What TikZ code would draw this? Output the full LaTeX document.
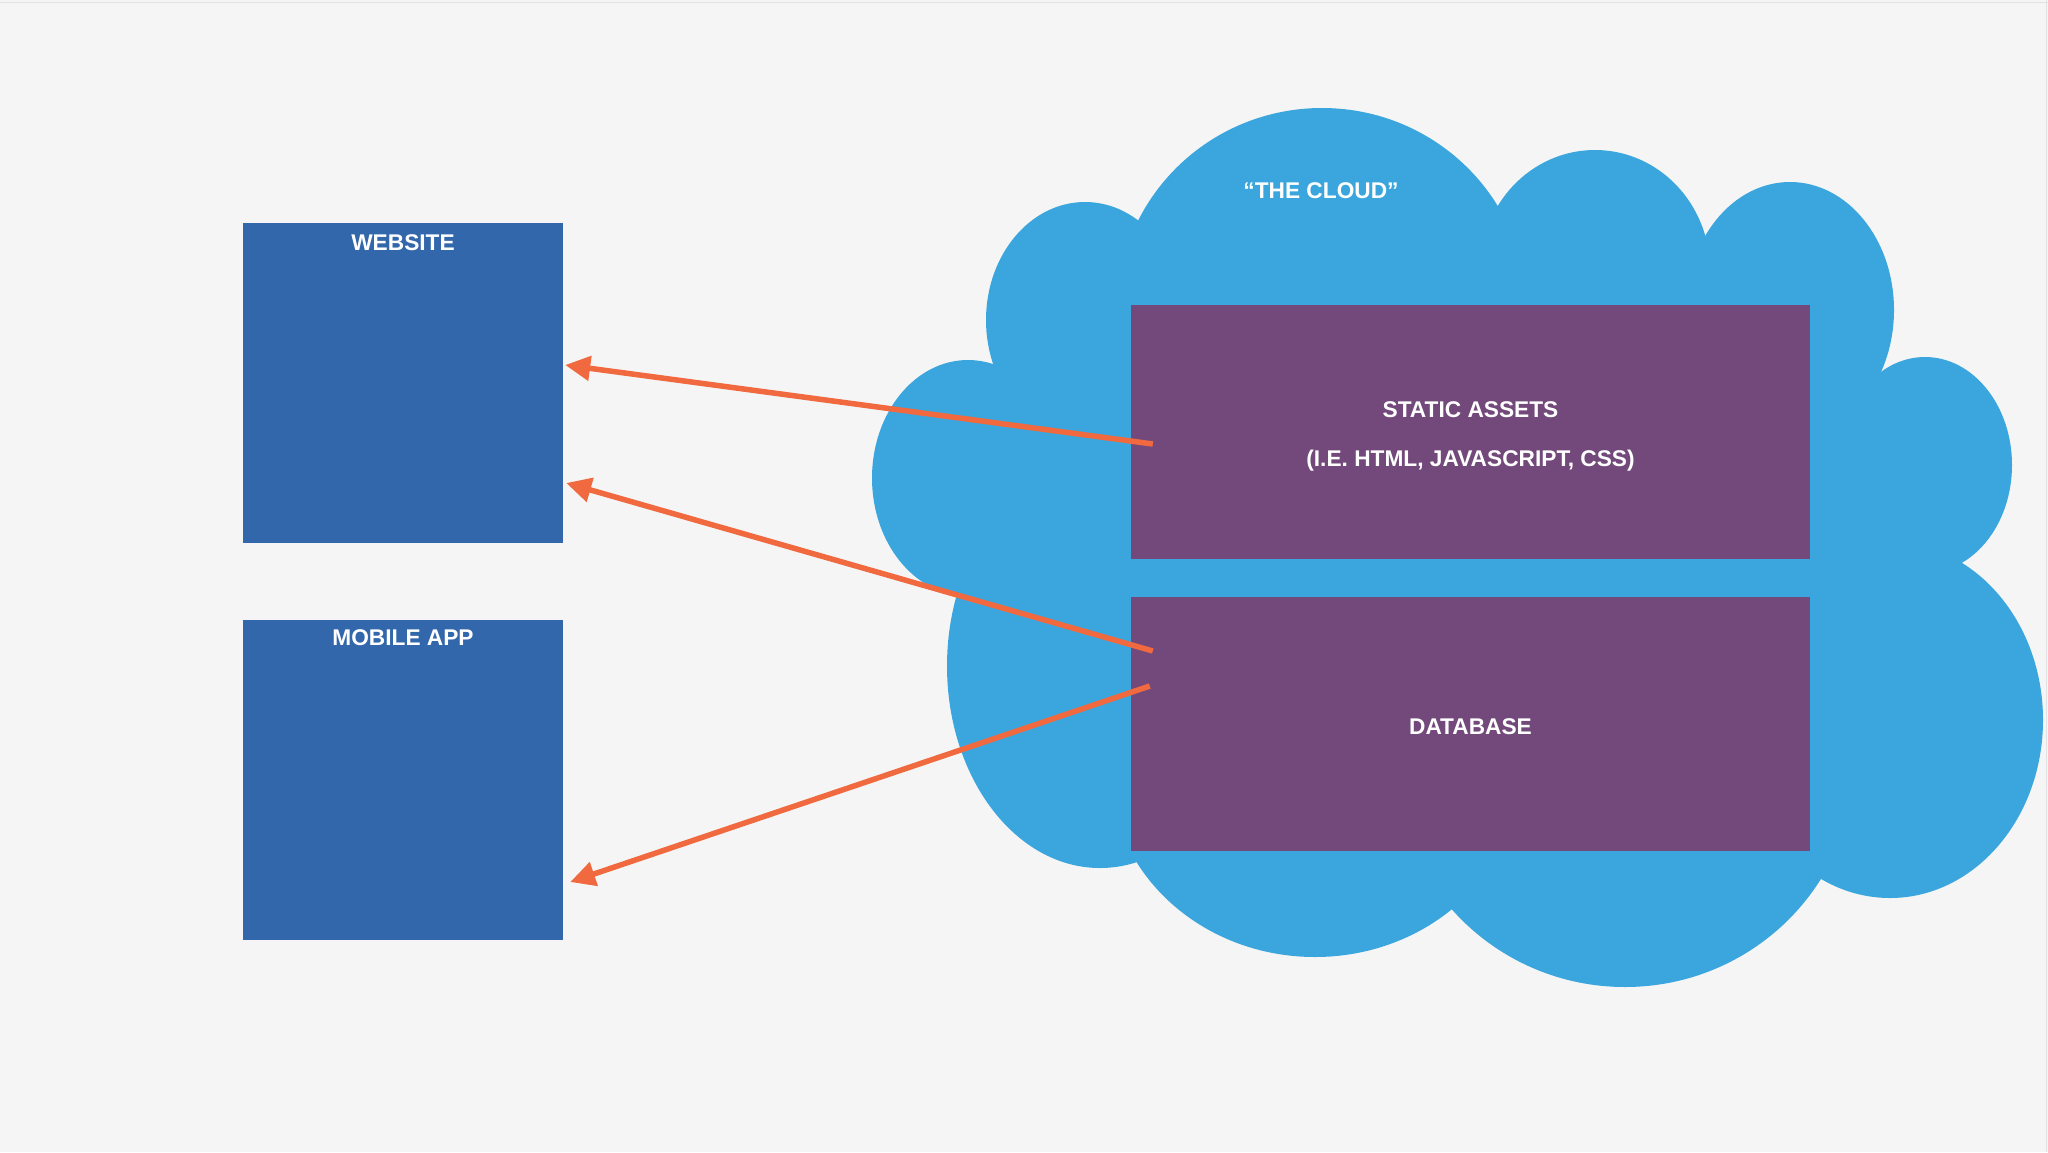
\documentclass[tikz,border=0pt]{standalone}
\usepackage{fontspec}
\setmainfont{Liberation Sans}
\usetikzlibrary{arrows.meta,calc}
\definecolor{bgc}{HTML}{F5F5F6}
\definecolor{edgec}{HTML}{E2E2E4}
\definecolor{boxblue}{HTML}{3267AB}
\definecolor{cloudc}{HTML}{3BA6DD}
\definecolor{purplec}{HTML}{72497A}
\definecolor{arrowc}{HTML}{F0693F}
\begin{document}
\begin{tikzpicture}[x=1pt,y=-1pt,
  appbox/.style={fill=boxblue, draw=none, minimum width=320pt, minimum height=320pt, inner sep=0pt},
  cloudbox/.style={fill=purplec, draw=none, minimum width=679pt, minimum height=254pt, inner sep=0pt},
  lbl/.style={text=white, font=\fontsize{22.7pt}{27pt}\selectfont\bfseries, inner sep=0pt, text height=16.3pt, text depth=0pt},
  arr/.style={draw=arrowc, line width=5.5pt, -{Triangle[length=25pt,width=24pt]}},
  bump/.style={fill=cloudc}
]
\fill[bgc] (0,0) rectangle (2048,1152);
\useasboundingbox (0,0) rectangle (2048,1152);
\draw[edgec, line width=1.5pt] (0,2.5) -- (2048,2.5);
\draw[edgec, line width=1.5pt] (2046.5,0) -- (2046.5,1152);

% cloud
\fill[bump] (1322,310) ellipse [x radius=205pt, y radius=202pt];
\fill[bump] (1085,320) ellipse [x radius=99pt, y radius=118pt];
\fill[bump] (968,478) ellipse [x radius=96pt, y radius=118pt];
\fill[bump] (1100,666) ellipse [x radius=153pt, y radius=202pt];
\fill[bump] (1315,770) ellipse [x radius=205pt, y radius=187pt];
\fill[bump] (1625,760) ellipse [x radius=230pt, y radius=227pt];
\fill[bump] (1890,720) ellipse [x radius=153pt, y radius=178pt];
\fill[bump] (1925,465) ellipse [x radius=87pt, y radius=108pt];
\fill[bump] (1790,310) ellipse [x radius=104pt, y radius=128pt];
\fill[bump] (1595,270) ellipse [x radius=115pt, y radius=120pt];
\fill[bump] (1085,320) -- (1322,310) -- (1595,270) -- (1790,310) -- (1925,465)
  -- (1890,720) -- (1625,760) -- (1315,770) -- (1100,666) -- (968,478) -- cycle;

\node[lbl] (cloudlbl) at (1321,190) {“THE CLOUD”};

% boxes
\node[appbox] (web) at (403,383) {};
\node[lbl] (weblbl) at (403,242) {WEBSITE};
\node[appbox] (mob) at (403,780) {};
\node[lbl] (moblbl) at (403,637) {MOBILE APP};

\node[cloudbox] (static) at (1470.5,432) {};
\node[lbl] (statlbl1) at (1470.5,409) {STATIC ASSETS};
\node[lbl] (statlbl2) at (1470.5,458) {(I.E. HTML, JAVASCRIPT, CSS)};
\node[cloudbox] (db) at (1470.5,724) {};
\node[lbl] (dblbl) at (1470.5,726) {DATABASE};

% connectors
\coordinate (s1) at ($(static.west)+(22,12)$);
\coordinate (s2) at ($(db.west)+(22,-73)$);
\coordinate (s3) at ($(db.west)+(19,-38)$);
\coordinate (t1) at ($(web.east)+(2,-18)$);
\coordinate (t2) at ($(web.east)+(3,100)$);
\coordinate (t3) at ($(mob.east)+(7,102)$);
\draw[arr] (s1) -- (t1);
\draw[arr] (s2) -- (t2);
\draw[arr] (s3) -- (t3);
\end{tikzpicture}
\end{document}
